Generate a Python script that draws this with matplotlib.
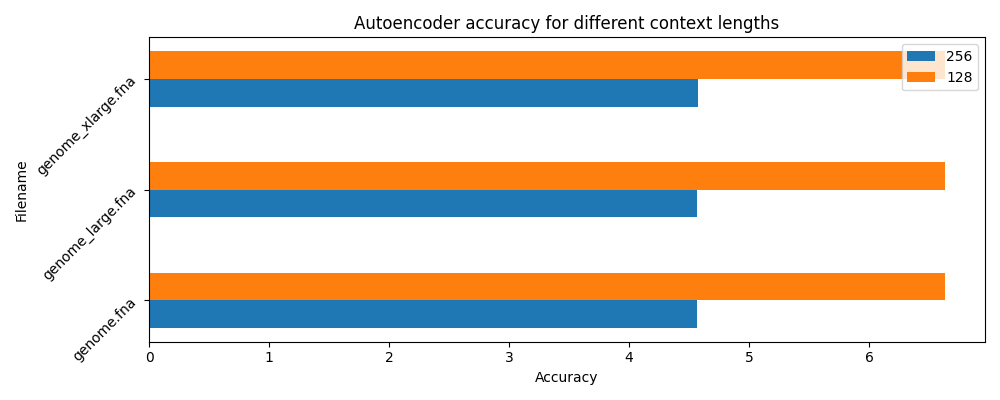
import numpy as np
import matplotlib
matplotlib.use("Agg")
import matplotlib.pyplot as plt

# data
filenames = ["genome.fna", "genome_large.fna", "genome_xlarge.fna"]
acc_256 = [4.567, 4.567, 4.575]
acc_128 = [6.633, 6.633, 6.633]

pos = np.arange(len(filenames))
h = 0.25

fig, ax = plt.subplots(figsize=(10, 4), dpi=100)
ax.barh(pos - h / 2, acc_256, height=h, color="#1f77b4", label="256")
ax.barh(pos + h / 2, acc_128, height=h, color="#ff7f0e", label="128")

ax.set_yticks(pos)
ax.set_yticklabels(filenames, rotation=45)
ax.set_ylim(pos[0] - 0.375, pos[-1] + 0.375)
ax.set_xlim(0, max(acc_128) * 1.05)

ax.set_title("Autoencoder accuracy for different context lengths")
ax.set_xlabel("Accuracy")
ax.set_ylabel("Filename")
ax.legend(loc="upper right")

plt.tight_layout()
plt.savefig("out.png", dpi=100)
